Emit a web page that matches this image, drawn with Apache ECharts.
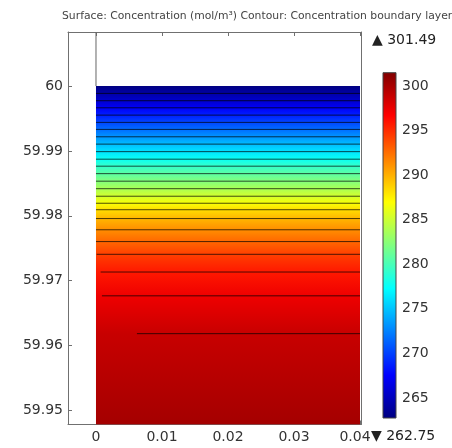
<!DOCTYPE html>
<html><head><meta charset="utf-8">
<script src="https://cdn.jsdelivr.net/npm/echarts@6/dist/echarts.min.js"></script>
<style>html,body{margin:0;padding:0;background:#fff}#c{width:452px;height:448px}</style>
</head><body><div id="c"></div>
<script>
// ---- data ----
const xTicks = [0, 0.01, 0.02, 0.03, 0.04];
const yTicks = [59.95, 59.96, 59.97, 59.98, 59.99, 60];
const colorTicks = [265, 270, 275, 280, 285, 290, 295, 300];
const colorRange = [262.75, 301.49];
const surfaceX = [0, 0.04];
// concentration profile across the layer (y in m, concentration in mol/m3)
const surfaceY = [60, 59.99887, 59.99774, 59.99665, 59.99552, 59.99440, 59.99332, 59.99218, 59.99105,
  59.98989, 59.98873, 59.98765, 59.98650, 59.98534, 59.98418, 59.98302, 59.98194, 59.98094,
  59.97958, 59.97785, 59.97603, 59.97407, 59.97134, 59.96767, 59.96184, 59.9478];
const surfaceC = [262.75, 264.25, 265.75, 267.25, 268.75, 270.25, 271.75, 273.25, 274.75,
  276.25, 277.75, 279.25, 280.75, 282.25, 283.75, 285.25, 286.75, 288.25,
  289.75, 291.25, 292.75, 294.25, 295.75, 297.25, 298.75, 300.1];
// contour lines (boundary layer levels)
const contourY = [59.99887, 59.99774, 59.99665, 59.99552, 59.99440, 59.99332, 59.99218, 59.99105,
  59.98989, 59.98873, 59.98765, 59.98650, 59.98534, 59.98418, 59.98302, 59.98194, 59.98094,
  59.97958, 59.97785, 59.97603, 59.97407, 59.97134, 59.96767, 59.96184];
const contourXStart = [0,0,0,0,0,0,0,0,0,0,0,0,0,0,0,0,0,0,0,0,0.0001,0.0007,0.0009,0.0062];
const contourXEnd = 0.04;

const cMin = colorRange[0], cMax = colorRange[1];
function clamp(v){return Math.max(0, Math.min(1, v));}
function jet(v){
  const t = (v - cMin) / (cMax - cMin);
  const r = clamp(1.5 - Math.abs(4*t - 3)), g = clamp(1.5 - Math.abs(4*t - 2)), b = clamp(1.5 - Math.abs(4*t - 1));
  return 'rgb(' + Math.round(r*255) + ',' + Math.round(g*255) + ',' + Math.round(b*255) + ')';
}
const FONT = 'DejaVu Sans';
const frameColor = '#707070';

const chart = echarts.init(document.getElementById('c'), null, {renderer: 'canvas'});
const xMin = -0.00424, xMax = 0.04015, yMin = 59.94784, yMax = 60.00833;

const option = {
  animation: false,
  title: {
    text: 'Surface: Concentration (mol/m³) Contour: Concentration boundary layer',
    left: 57, top: 6,
    textStyle: {fontFamily: FONT, fontSize: 10.8, fontWeight: 'normal', color: '#444'}
  },
  grid: [
    {left: 68, top: 32, width: 293, height: 392.5},
    {left: 383, top: 72.7, width: 13, height: 345.3}
  ],
  xAxis: [
    {type: 'value', gridIndex: 0, min: xMin, max: xMax, position: 'bottom',
     axisLine: {onZero: false, lineStyle: {color: frameColor}},
     axisTick: {inside: true, length: 4, customValues: xTicks, lineStyle: {color: frameColor}},
     axisLabel: {customValues: xTicks, fontFamily: FONT, fontSize: 14, color: '#333', margin: 6,
       formatter: function(v){ return v === 0.04 ? '{m|0.04}' : String(v); },
       rich: {m: {fontFamily: FONT, fontSize: 14, color: '#333', padding: [0, 10, 0, 0]}}},
     splitLine: {show: false}},
    {type: 'value', gridIndex: 0, min: xMin, max: xMax, position: 'top',
     axisLine: {onZero: false, lineStyle: {color: frameColor}},
     axisTick: {inside: true, length: 4, customValues: xTicks, lineStyle: {color: frameColor}},
     axisLabel: {show: false}, splitLine: {show: false}},
    {type: 'value', gridIndex: 1, min: 0, max: 1, show: false}
  ],
  yAxis: [
    {type: 'value', gridIndex: 0, min: yMin, max: yMax, position: 'left',
     axisLine: {onZero: false, lineStyle: {color: frameColor}},
     axisTick: {inside: true, length: 4, customValues: yTicks, lineStyle: {color: frameColor}},
     axisLabel: {customValues: yTicks, fontFamily: FONT, fontSize: 14, color: '#333', margin: 5},
     splitLine: {show: false}},
    {type: 'value', gridIndex: 0, min: yMin, max: yMax, position: 'right',
     axisLine: {onZero: false, lineStyle: {color: frameColor}},
     axisTick: {show: false}, axisLabel: {show: false}, splitLine: {show: false}},
    {type: 'value', gridIndex: 1, min: cMin, max: cMax, position: 'right',
     axisLine: {show: false}, axisTick: {show: false}, splitLine: {show: false},
     axisLabel: {customValues: colorTicks, fontFamily: FONT, fontSize: 14, color: '#333', margin: 6}}
  ],
  series: [
    {
      type: 'custom', xAxisIndex: 0, yAxisIndex: 0, clip: true, z: 1,
      data: [[surfaceX[0], surfaceX[1]]],
      renderItem: function(params, api){
        const p0 = api.coord([surfaceX[0], surfaceY[0]]);
        const p1 = api.coord([surfaceX[1], surfaceY[surfaceY.length - 1]]);
        const h = p1[1] - p0[1];
        const stops = surfaceY.map(function(y, i){
          return {offset: clamp((api.coord([0, y])[1] - p0[1]) / h), color: jet(surfaceC[i])};
        });
        return {type: 'rect', shape: {x: p0[0], y: p0[1], width: p1[0] - p0[0], height: h},
          style: {fill: new echarts.graphic.LinearGradient(0, 0, 0, 1, stops)}};
      }
    },
    {
      type: 'custom', xAxisIndex: 0, yAxisIndex: 0, clip: true, z: 2,
      data: contourY.map(function(y, i){ return [contourXStart[i], contourXEnd, y]; }),
      renderItem: function(params, api){
        const a = api.coord([api.value(0), api.value(2)]);
        const b = api.coord([api.value(1), api.value(2)]);
        return {type: 'line', shape: {x1: a[0], y1: a[1], x2: b[0], y2: b[1]},
          style: {stroke: 'rgba(0,0,0,0.7)', lineWidth: 1}};
      }
    },
    {
      type: 'line', xAxisIndex: 0, yAxisIndex: 0, z: 3, symbol: 'none',
      lineStyle: {color: '#666', width: 1},
      data: [[surfaceX[0], surfaceY[0]], [surfaceX[0], yMax]]
    },
    {
      type: 'custom', xAxisIndex: 2, yAxisIndex: 2, z: 1,
      data: [[cMin, cMax]],
      renderItem: function(params, api){
        const top = api.coord([0, cMax]);
        const bot = api.coord([1, cMin]);
        const stops = [];
        for (let k = 0; k <= 8; k++) {
          const v = cMax - (cMax - cMin) * k / 8;
          stops.push({offset: k / 8, color: jet(v)});
        }
        return {type: 'rect', shape: {x: top[0], y: top[1], width: bot[0] - top[0], height: bot[1] - top[1]},
          style: {fill: new echarts.graphic.LinearGradient(0, 0, 0, 1, stops), stroke: '#444', lineWidth: 1}};
      }
    }
  ],
  graphic: [
    {type: 'text', left: 372, top: 33, style: {text: '▲ ' + cMax.toFixed(2), font: '14px "DejaVu Sans"', fill: '#222'}},
    {type: 'text', left: 371, top: 429, style: {text: '▼ ' + cMin.toFixed(2), font: '14px "DejaVu Sans"', fill: '#222'}}
  ]
};
chart.setOption(option);
</script></body></html>
